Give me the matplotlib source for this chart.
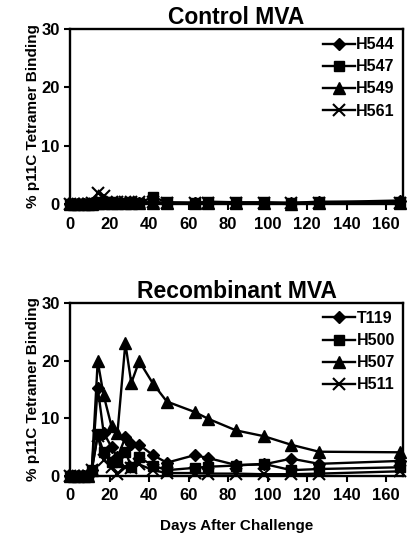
import numpy as np
from matplotlib import pyplot as plt

plt.rcParams["font.family"] = ["Liberation Sans", "DejaVu Sans"]
plt.rcParams["font.weight"] = "bold"

days = [0, 2, 4, 7, 9, 11, 14, 17, 21, 24, 28, 31, 35, 42, 49, 63, 70, 84, 98, 112, 126, 167]

# Control MVA
ctrl_names = ["H544", "H547", "H549", "H561"]
h544 = [0, 0, 0, 0, 0, 0.1, 0.2, 0.3, 0.2, 0.2, 0.2, 0.2, 0.2, 0.3, 0.2, 0.2, 0.2, 0.2, 0.2, 0.2, 0.3, 0.6]
h547 = [0, 0, 0, 0, 0, 0.1, 0.3, 0.4, 0.3, 0.2, 0.2, 0.3, 0.2, 1.2, 0.3, 0.2, 0.4, 0.3, 0.3, 0.2, 0.4, 0.3]
h549 = [0, 0, 0, 0, 0, 0, 0.1, 0.2, 0.1, 0.1, 0.1, 0.1, 0.1, 0.2, 0.1, 0.1, 0.1, 0.1, 0.1, 0.0, 0.1, 0.2]
h561 = [0, 0, 0, 0, 0, 0.1, 1.9, 1.4, 0.4, 0.3, 0.3, 0.3, 0.3, 0.3, 0.2, 0.2, 0.2, 0.1, 0.2, 0.1, 0.1, 0.1]

# Recombinant MVA
rec_names = ["T119", "H500", "H507", "H511"]
t119 = [0, 0, 0, 0, 0, 1.0, 15.3, 7.5, 5.0, 3.2, 6.7, 5.5, 5.4, 3.6, 2.3, 3.6, 3.1, 1.9, 2.0, 3.0, 2.1, 2.6]
h500 = [0, 0, 0, 0, 0, 1.0, 7.2, 4.1, 2.5, 2.4, 4.2, 1.6, 3.2, 1.8, 1.0, 1.4, 1.6, 1.8, 2.1, 1.0, 1.2, 1.5]
h507 = [0, 0, 0, 0, 0, 1.0, 19.9, 14.0, 8.6, 7.5, 23.0, 16.1, 19.9, 16.0, 12.9, 11.1, 9.9, 7.9, 6.9, 5.4, 4.2, 4.1]
h511 = [0, 0, 0, 0, 0, 1.0, 7.0, 2.8, 1.5, 0.3, 1.5, 1.4, 2.0, 1.0, 0.5, 0.5, 0.4, 0.4, 0.3, 0.3, 0.4, 0.8]

markers = ["D", "s", "^", "x"]
msizes = [6.5, 7.5, 8.5, 9]

fig = plt.figure(figsize=(4.12, 5.39), dpi=100)
ax1 = fig.add_axes([0.170, 0.6215, 0.808, 0.3245])
ax2 = fig.add_axes([0.170, 0.117, 0.808, 0.321])


def draw(ax, series, names, title):
    for vals, name, m, ms in zip(series, names, markers, msizes):
        ax.plot(days, vals, color="black", marker=m, markersize=ms, lw=1.7,
                mew=1.5 if m == "x" else 1, label=name, clip_on=False, zorder=3)
    ax.set_xlim(0, 168.5)
    ax.set_ylim(0, 30)
    ax.set_xticks(np.arange(0, 161, 20))
    ax.set_yticks([0, 10, 20, 30])
    ax.tick_params(labelsize=12, width=1.5, length=4, direction="out")
    ax.tick_params(axis="x", pad=5)
    for lab in ax.get_xticklabels() + ax.get_yticklabels():
        lab.set_fontweight("bold")
    for sp in ax.spines.values():
        sp.set_linewidth(1.7)
    ax.set_title(title, fontsize=16.5, fontweight="bold", pad=2)
    ax.set_ylabel("% p11C Tetramer Binding", fontsize=11, fontweight="bold", labelpad=1)
    leg = ax.legend(loc="upper right", frameon=False, fontsize=11.5, handlelength=2.0,
                    handletextpad=0.1, labelspacing=0.45, borderaxespad=0.1)
    for t in leg.get_texts():
        t.set_fontweight("bold")


draw(ax1, [h544, h547, h549, h561], ctrl_names, "Control MVA")
draw(ax2, [t119, h500, h507, h511], rec_names, "Recombinant MVA")
ax2.set_xlabel("Days After Challenge", fontsize=11, fontweight="bold", labelpad=11)

fig.savefig("out.png", dpi=100)
